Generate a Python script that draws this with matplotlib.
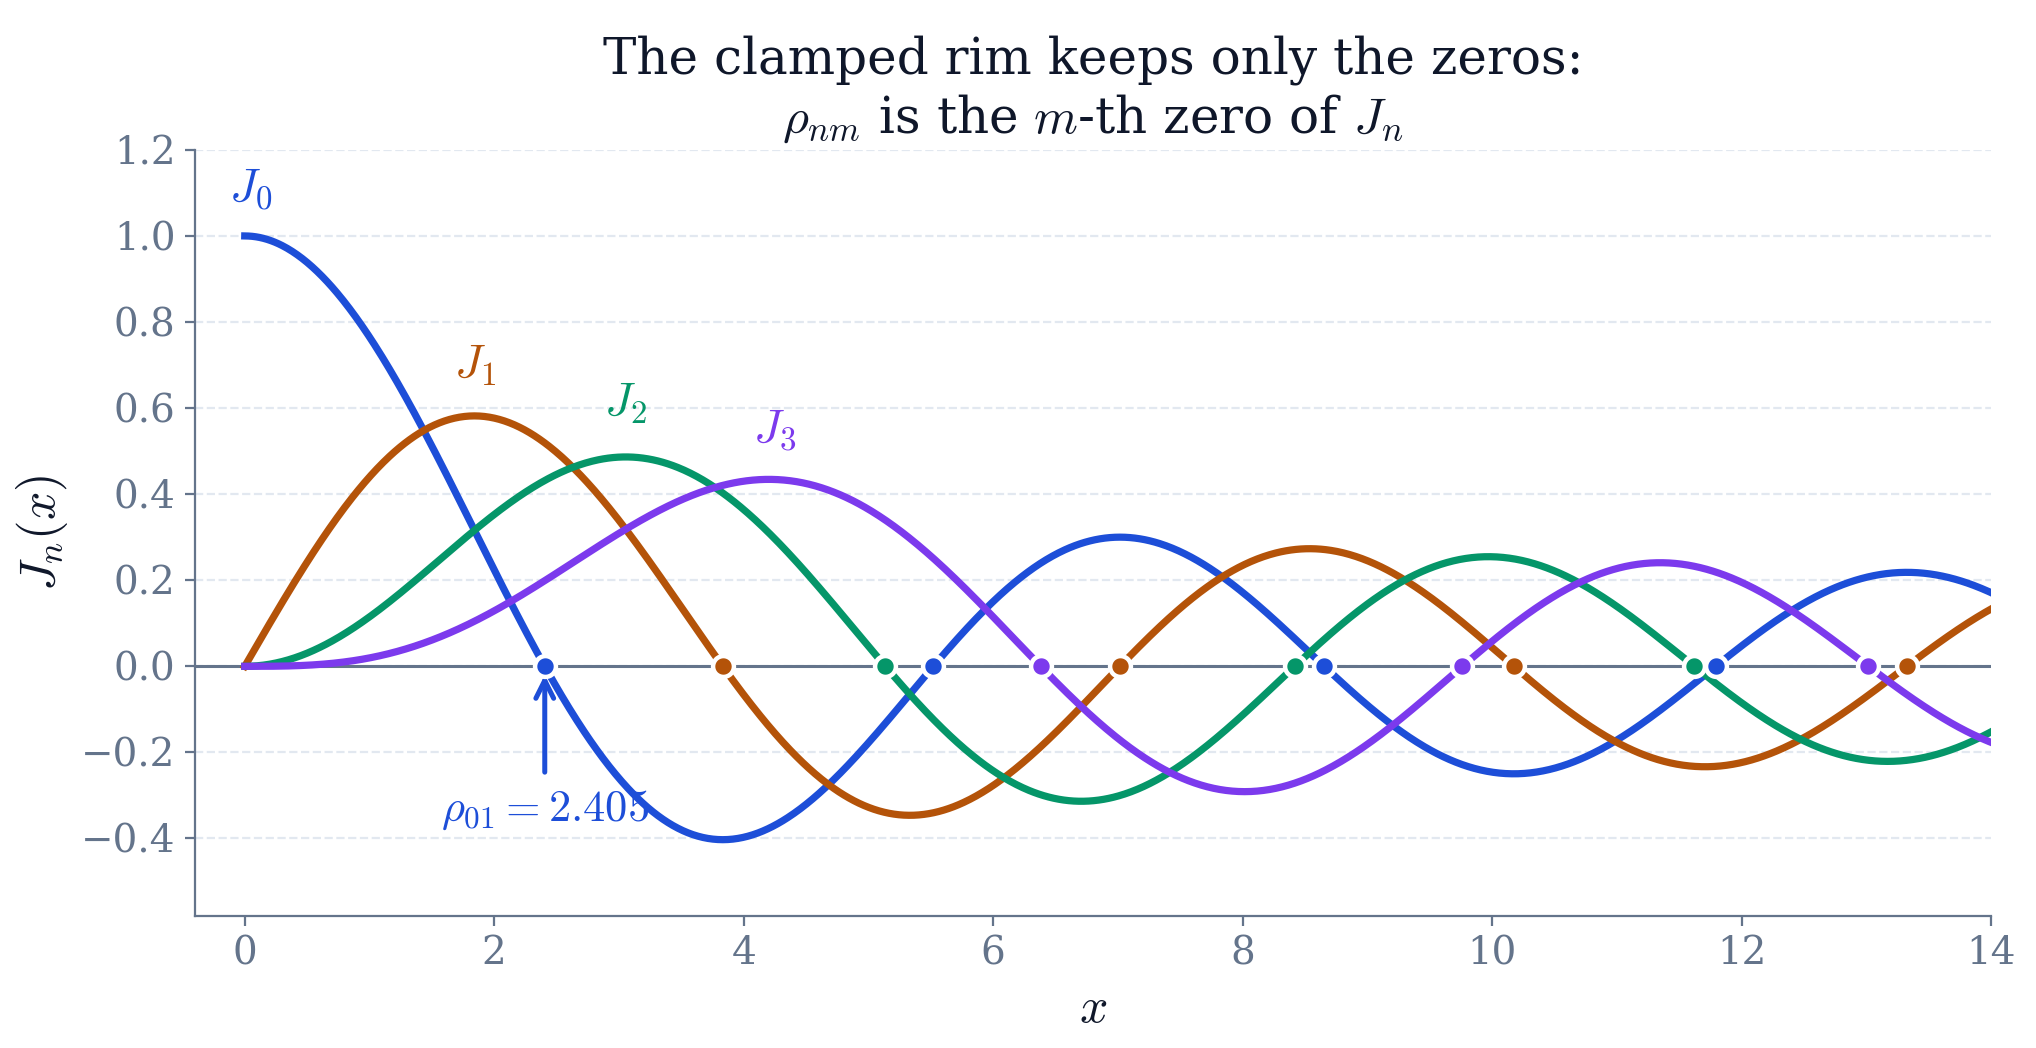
import numpy as np
import matplotlib
matplotlib.use("Agg")
import matplotlib.pyplot as plt

plt.rcParams['font.family'] = ['DejaVu Serif']
plt.rcParams['mathtext.fontset'] = 'cm'

orders = [0, 1, 2, 3]
colors = ['#1d4ed8', '#b45309', '#059669', '#7c3aed']
zeros = [
    [2.405, 5.520, 8.654, 11.792],
    [3.832, 7.016, 10.173, 13.324],
    [5.136, 8.417, 11.620],
    [6.380, 9.761, 13.015],
]
label_pos = [(0.05, 1.11), (1.85, 0.70), (3.05, 0.61), (4.25, 0.55)]


def bessel_j(n, x):
    # J_n(x) = 1/pi * int_0^pi cos(n t - x sin t) dt
    t = np.linspace(0, np.pi, 801)
    vals = np.cos(n * t[None, :] - x[:, None] * np.sin(t)[None, :])
    return np.trapezoid(vals, t, axis=1) / np.pi


x = np.linspace(0, 14, 1400)

fig, ax = plt.subplots(figsize=(10.18, 5.24), dpi=200)

ax.axhline(0, color='#64748b', lw=1.1, zorder=1)

for n, c, zs, (lx, ly) in zip(orders, colors, zeros, label_pos):
    ax.plot(x, bessel_j(n, x), color=c, lw=2.6, zorder=2)
    ax.plot(zs, np.zeros(len(zs)), 'o', color=c, ms=7.5, mec='white', mew=1.6, zorder=4)
    ax.text(lx, ly, rf'$J_{n}$', color=c, fontsize=17, ha='center', va='center')

ax.annotate(r'$\rho_{01} = 2.405$', xy=(2.405, -0.02), xytext=(2.405, -0.335),
            color=colors[0], fontsize=16, ha='center', va='center',
            arrowprops=dict(arrowstyle='->', color=colors[0], lw=1.8,
                            shrinkA=4, shrinkB=0))

ax.set_xlim(-0.4, 14)
ax.set_ylim(-0.58, 1.2)
ax.set_yticks(np.arange(-0.4, 1.21, 0.2))
ax.grid(axis='y', color='#e2e8f0', ls='--', lw=0.8)
ax.set_axisbelow(True)
for s in ['top', 'right']:
    ax.spines[s].set_visible(False)
for s in ['left', 'bottom']:
    ax.spines[s].set_color('#64748b')
ax.tick_params(colors='#64748b', labelsize=14)
ax.set_xlabel(r'$x$', fontsize=18, color='#0f172a')
ax.set_ylabel(r'$J_n(x)$', fontsize=18, color='#0f172a')
ax.set_title('The clamped rim keeps only the zeros:\n'
             r'$\rho_{nm}$ is the $m$-th zero of $J_n$',
             fontsize=18, color='#0f172a')

fig.subplots_adjust(left=0.0957, right=0.978, top=0.857, bottom=0.126)
fig.savefig('out.png')
